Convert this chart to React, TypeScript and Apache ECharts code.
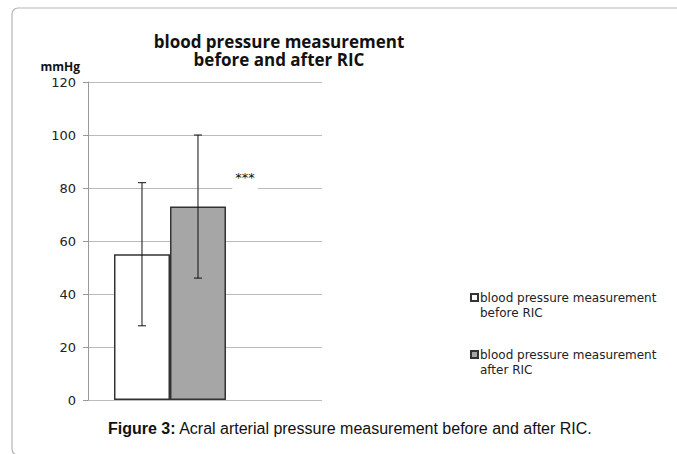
import React, { useEffect, useRef } from "react";
import * as echarts from "echarts";

const seriesNames = [
  "blood pressure measurement\nbefore RIC",
  "blood pressure measurement\nafter RIC",
];
const meanValues = [55, 73];
const lowValues = [28, 46];
const highValues = [82, 100];
const barColors = ["#ffffff", "#a6a6a6"];
const yTicks = { min: 0, max: 120, interval: 20 };
const categoryPosition = 0.3504;
const titleLine1 = "blood pressure measurement";
const titleLine2 = "before and after RIC";
const yAxisName = "mmHg";
const significance = "***";

const BAR_WIDTH = 56;

export default function App() {
  const ref = useRef<HTMLDivElement>(null);
  useEffect(() => {
    document.body.style.margin = "0";
    if (!ref.current) return;
    const chart = echarts.init(ref.current, null, { renderer: "svg" });
    const errData = meanValues.map((_, i) => [categoryPosition, lowValues[i], highValues[i], i]);
    const titleStyle = {
      fontFamily: "Open Sans",
      fontWeight: "bold",
      fontSize: 17,
      lineHeight: 17,
      color: "#111",
    };
    chart.setOption({
      animation: false,
      backgroundColor: "#ffffff",
      title: {
        text: titleLine1,
        subtext: titleLine2,
        left: 279,
        top: 33,
        padding: 0,
        itemGap: 1,
        textAlign: "center",
        textStyle: titleStyle,
        subtextStyle: titleStyle,
      },
      grid: { left: 88, top: 82, width: 234, height: 318 },
      xAxis: { type: "value", min: 0, max: 1, show: false },
      yAxis: {
        type: "value",
        min: yTicks.min,
        max: yTicks.max,
        interval: yTicks.interval,
        name: yAxisName,
        nameLocation: "end",
        nameGap: 10,
        nameTextStyle: {
          fontFamily: "Open Sans",
          fontWeight: "bold",
          fontSize: 12,
          color: "#111",
          align: "right",
          padding: [0, 8, 0, 0],
        },
        axisLine: { show: true, lineStyle: { color: "#999", width: 1 } },
        axisTick: { show: true, length: 5, lineStyle: { color: "#999" } },
        axisLabel: { fontFamily: "DejaVu Sans", fontSize: 13, color: "#222", margin: 12 },
        splitLine: { show: true, lineStyle: { color: "#bbbbbb", width: 1.2 } },
      },
      legend: {
        orient: "vertical",
        left: 470,
        top: 290,
        padding: 0,
        itemWidth: 7,
        itemHeight: 22,
        itemGap: 27,
        icon: "path://M0,0h7v7h-7z M0,22L0.01,22",
        data: seriesNames,
        textStyle: {
          fontFamily: "DejaVu Sans",
          fontSize: 12,
          lineHeight: 15,
          color: "#222",
          padding: [0, 0, 0, -3],
        },
      },
      series: [
        ...seriesNames.map((name, i) => ({
          name,
          type: "bar",
          barWidth: BAR_WIDTH,
          barGap: "0%",
          data: [[categoryPosition, meanValues[i]]],
          itemStyle: { color: barColors[i], borderColor: "#333", borderWidth: 1.5 },
        })),
        {
          type: "custom",
          name: "error",
          data: errData,
          encode: { x: 0, y: [1, 2] },
          z: 5,
          renderItem: (params: any, api: any) => {
            const x = api.value(0);
            const idx = api.value(3);
            const lo = api.coord([x, api.value(1)]);
            const hi = api.coord([x, api.value(2)]);
            const px = lo[0] + (idx - 0.5) * BAR_WIDTH;
            const cap = 4;
            const style = { stroke: "#111", lineWidth: 1 };
            return {
              type: "group",
              children: [
                { type: "line", shape: { x1: px, y1: hi[1], x2: px, y2: lo[1] }, style },
                { type: "line", shape: { x1: px - cap, y1: hi[1], x2: px + cap, y2: hi[1] }, style },
                { type: "line", shape: { x1: px - cap, y1: lo[1], x2: px + cap, y2: lo[1] }, style },
              ],
            };
          },
        },
      ],
      graphic: [
        {
          type: "rect",
          shape: { x: 12, y: 8, width: 720, height: 447, r: 6 },
          style: { fill: "none", stroke: "#b5b5b5", lineWidth: 1.2 },
          z: -1,
        },
        {
          type: "text",
          x: 245,
          y: 177,
          style: {
            text: significance,
            fontFamily: "DejaVu Sans",
            fontSize: 13,
            fill: "#111",
            align: "center",
            verticalAlign: "middle",
            backgroundColor: "#fff",
            padding: [2, 3, 12, 3],
          },
          z: 10,
        },
        {
          type: "text",
          x: 108,
          y: 428,
          style: {
            rich: {
              b: { fontFamily: "Liberation Sans", fontWeight: "bold", fontSize: 16, fill: "#111" },
              n: { fontFamily: "Liberation Sans", fontSize: 16, fill: "#111" },
            },
            text: "{b|Figure 3:}{n| Acral arterial pressure measurement before and after RIC.}",
            verticalAlign: "middle",
          },
        },
      ],
    });
    return () => chart.dispose();
  }, []);
  return <div ref={ref} style={{ width: 677, height: 454 }} />;
}
